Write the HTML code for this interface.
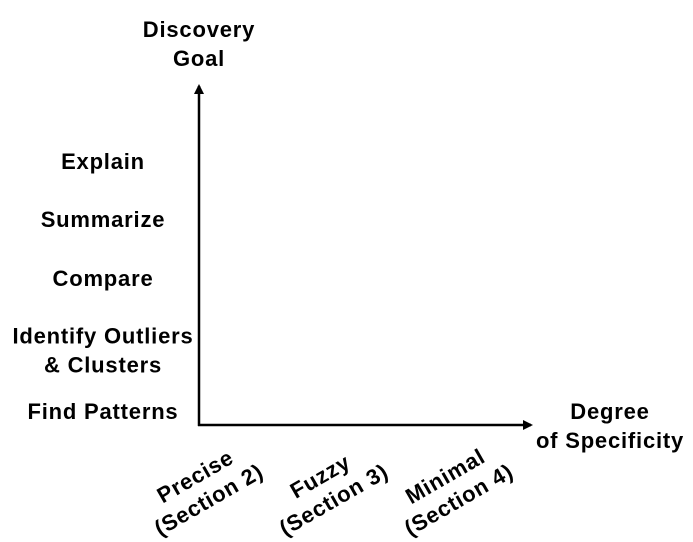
<!DOCTYPE html>
<html><head><meta charset="utf-8"><style>
body{margin:0;background:#fff}
svg{display:block}
text{font-family:"Liberation Sans",Arial,sans-serif;font-weight:bold;font-size:22px;letter-spacing:0.8px;fill:#000}
</style></head><body>
<svg id="c" width="693" height="542">
<defs><marker id="ah" markerWidth="10" markerHeight="10" refX="8" refY="5" orient="auto" markerUnits="userSpaceOnUse"><path d="M0,0 L10,5 L0,10 z" fill="#000"/></marker></defs>
<line x1="199" y1="426" x2="199" y2="86" stroke="#000" stroke-width="2.5" marker-end="url(#ah)"/>
<line x1="198" y1="425" x2="531" y2="425" stroke="#000" stroke-width="2.5" marker-end="url(#ah)"/>
<text x="199" y="37" text-anchor="middle"><tspan x="199">Discovery</tspan><tspan x="199" dy="29">Goal</tspan></text>
<text x="610" y="419" text-anchor="middle"><tspan x="610">Degree</tspan><tspan x="610" dy="29">of Specificity</tspan></text>
</svg>
<script>
const yLabels=[["Explain"],["Summarize"],["Compare"],["Identify Outliers","& Clusters"],["Find Patterns"]];
const yCenters=[161,219,278,350,411];
const xLabels=[["Precise","(Section 2)"],["Fuzzy","(Section 3)"],["Minimal","(Section 4)"]];
const svg=document.getElementById('c');const NS='http://www.w3.org/2000/svg';
yLabels.forEach((lines,i)=>{
  const t=document.createElementNS(NS,'text');
  
  
  t.setAttribute('text-anchor','middle');
  const y0=yCenters[i]-(lines.length-1)*14.5+8;
  lines.forEach((l,j)=>{const s=document.createElementNS(NS,'tspan');s.setAttribute('x',103);s.setAttribute('y',y0+j*29);s.textContent=l;t.appendChild(s);});
  svg.appendChild(t);
});
const xStart=202,xStep=125;
xLabels.forEach((lines,i)=>{
  const cx=xStart+i*xStep,cy=488;
  const t=document.createElementNS(NS,'text');
  
  
  t.setAttribute('text-anchor','middle');
  t.setAttribute('transform',`rotate(-30 ${cx} ${cy})`);
  lines.forEach((l,j)=>{const s=document.createElementNS(NS,'tspan');s.setAttribute('x',cx);s.setAttribute('y',cy-6+j*27);s.textContent=l;t.appendChild(s);});
  svg.appendChild(t);
});
</script>
</body></html>
